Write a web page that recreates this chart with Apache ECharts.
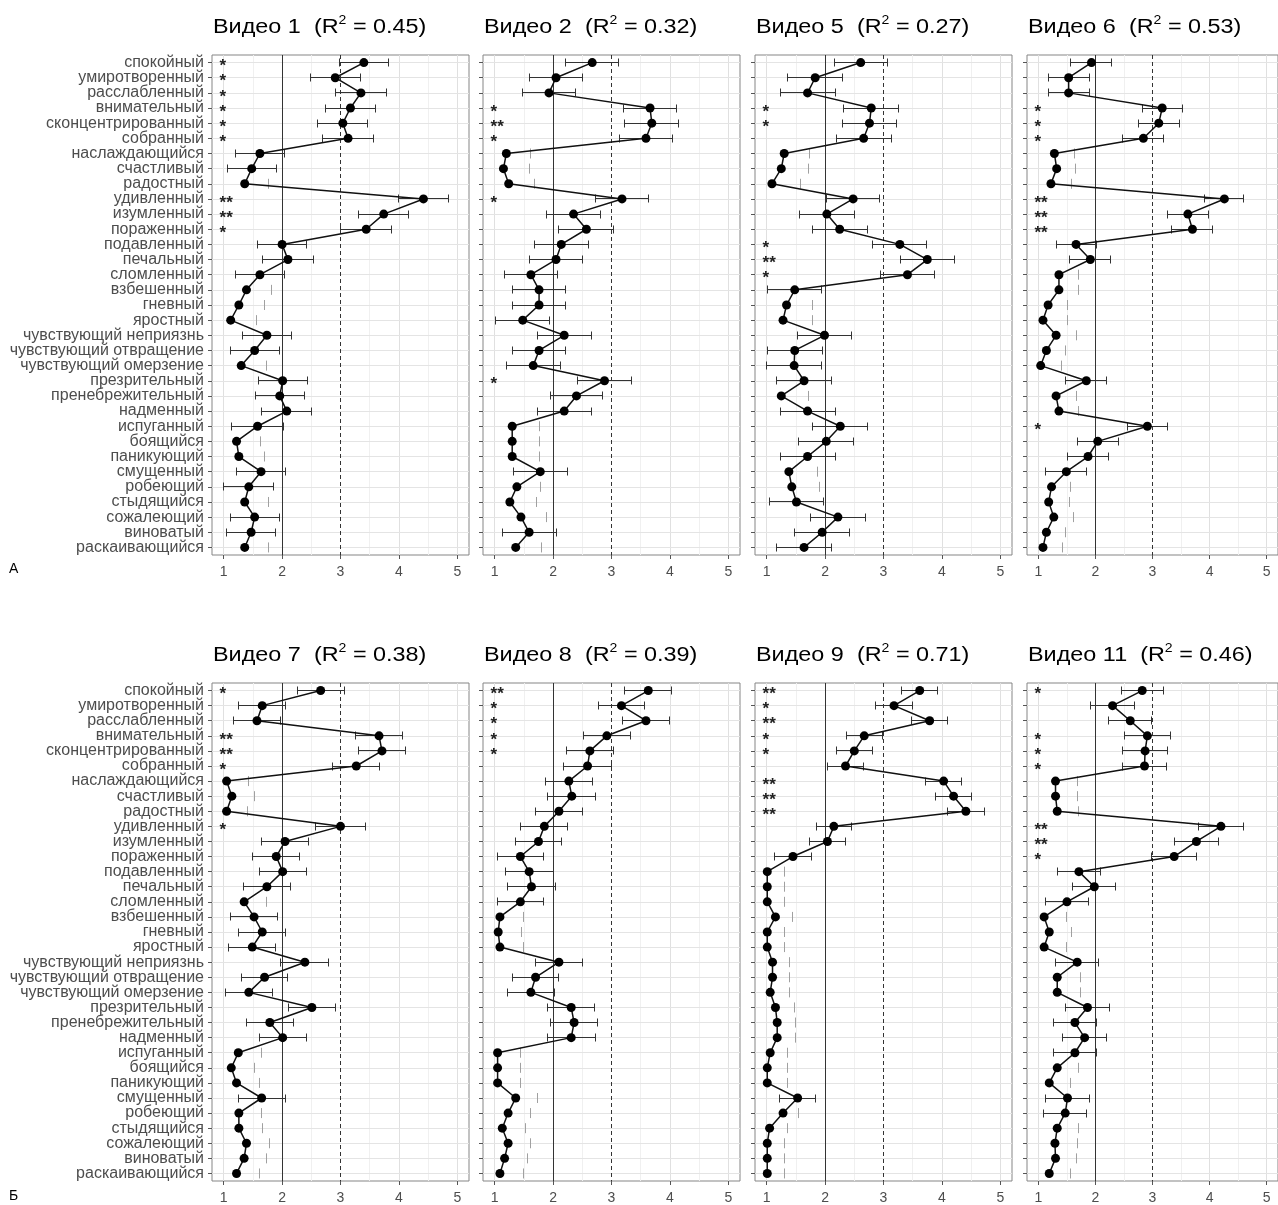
<!DOCTYPE html>
<html><head><meta charset="utf-8">
<script src="https://cdn.jsdelivr.net/npm/echarts@6/dist/echarts.min.js"></script>
<style>html,body{margin:0;padding:0;background:#fff}#c{width:1278px;height:1205px}</style>
</head><body><div id="c"></div>
<script>
const categories = ['спокойный','умиротворенный','расслабленный','внимательный','сконцентрированный','собранный','наслаждающийся','счастливый','радостный','удивленный','изумленный','пораженный','подавленный','печальный','сломленный','взбешенный','гневный','яростный','чувствующий неприязнь','чувствующий отвращение','чувствующий омерзение','презрительный','пренебрежительный','надменный','испуганный','боящийся','паникующий','смущенный','робеющий','стыдящийся','сожалеющий','виноватый','раскаивающийся'];
const xTicks = [1,2,3,4,5];
const _ = null;

const titles = ['Видео 1','Видео 2','Видео 5','Видео 6','Видео 7','Видео 8','Видео 9','Видео 11'];
const r2 = ['0.45','0.32','0.27','0.53','0.38','0.39','0.71','0.46'];

const v1Mean = [3.40,2.91,3.35,3.17,3.04,3.13,1.62,1.48,1.36,4.42,3.74,3.44,2.00,2.10,1.62,1.39,1.26,1.12,1.74,1.53,1.30,2.01,1.96,2.08,1.58,1.22,1.26,1.64,1.43,1.36,1.53,1.47,1.36];
const v1Err  = [0.42,0.43,0.43,0.43,0.43,0.43,0.42,0.42,_,0.43,0.43,0.44,0.42,0.43,0.42,_,_,_,0.42,0.42,_,0.42,0.42,0.43,0.44,_,_,0.42,0.43,_,0.42,0.42,_];
const v1Gray = [_,_,_,_,_,_,_,_,1.76,_,_,_,_,_,_,1.82,1.70,1.56,_,_,1.73,_,_,_,_,1.63,1.70,_,_,1.76,_,_,1.76];
const v1Stars = ['*','*','*','*','*','*','','','','**','**','*','','','','','','','','','','','','','','','','','','','','',''];

const v2Mean = [2.67,2.05,1.93,3.66,3.69,3.59,1.20,1.15,1.24,3.18,2.35,2.57,2.14,2.05,1.62,1.76,1.76,1.48,2.19,1.76,1.66,2.88,2.40,2.19,1.30,1.30,1.30,1.78,1.38,1.26,1.45,1.59,1.36];
const v2Err  = [0.45,0.46,0.46,0.46,0.46,0.45,_,_,_,0.46,0.46,0.47,0.46,0.46,0.46,0.46,0.46,0.46,0.46,0.46,0.46,0.46,0.45,0.46,_,_,_,0.46,_,_,_,0.46,_];
const v2Gray = [_,_,_,_,_,_,1.62,1.59,1.69,_,_,_,_,_,_,_,_,_,_,_,_,_,_,_,1.76,1.76,1.76,_,1.79,1.72,1.89,_,1.80];
const v2Stars = ['','','','*','**','*','','','','*','','','','','','','','','','','','*','','','','','','','','','','',''];

const v5Mean = [2.61,1.83,1.70,2.79,2.76,2.66,1.30,1.25,1.09,2.48,2.03,2.25,3.28,3.75,3.41,1.48,1.34,1.28,1.99,1.48,1.47,1.64,1.25,1.70,2.26,2.02,1.70,1.38,1.43,1.51,2.22,1.95,1.64];
const v5Err  = [0.45,0.47,0.47,0.47,0.47,0.47,_,_,_,0.46,0.47,0.47,0.46,0.46,0.46,0.46,_,_,0.47,0.47,0.47,0.47,_,0.47,0.47,0.47,0.47,_,_,0.47,0.47,0.47,0.47];
const v5Gray = [_,_,_,_,_,_,1.74,1.72,1.58,_,_,_,_,_,_,_,1.78,1.78,_,_,_,_,1.71,_,_,_,_,1.87,1.90,_,_,_,_];
const v5Stars = ['','','','*','*','','','','','','','','*','**','*','','','','','','','','','','','','','','','','','',''];

const v6Mean = [1.93,1.53,1.53,3.17,3.11,2.84,1.28,1.32,1.22,4.26,3.62,3.70,1.66,1.91,1.36,1.36,1.17,1.08,1.31,1.14,1.04,1.84,1.31,1.36,2.91,2.04,1.87,1.49,1.23,1.18,1.27,1.14,1.08];
const v6Err  = [0.36,0.36,0.36,0.35,0.36,0.36,_,_,_,0.34,0.36,0.36,0.35,0.36,_,_,_,_,_,_,_,0.36,_,_,0.35,0.36,0.36,0.36,_,_,_,_,_];
const v6Gray = [_,_,_,_,_,_,1.63,1.65,1.58,_,_,_,_,_,1.71,1.71,1.51,1.51,1.66,1.47,1.41,_,1.66,1.71,_,_,_,_,1.57,1.54,1.61,1.47,1.43];
const v6Stars = ['','','','*','*','*','','','','**','**','**','','','','','','','','','','','','','*','','','','','','','',''];

const v7Mean = [2.66,1.66,1.57,3.66,3.71,3.27,1.05,1.14,1.05,3.00,2.05,1.90,2.01,1.74,1.35,1.52,1.66,1.49,2.39,1.70,1.43,2.51,1.79,2.01,1.25,1.13,1.22,1.65,1.26,1.26,1.39,1.35,1.22];
const v7Err  = [0.40,0.40,0.40,0.40,0.40,0.40,_,_,_,0.42,0.40,0.40,0.40,0.40,_,0.40,0.40,0.40,0.41,0.40,0.40,0.40,0.40,0.40,_,_,_,0.40,_,_,_,_,_];
const v7Gray = [_,_,_,_,_,_,1.42,1.52,1.41,_,_,_,_,_,1.73,_,_,_,_,_,_,_,_,_,1.65,1.52,1.62,_,1.65,1.66,1.79,1.73,1.62];
const v7Stars = ['*','','','**','**','*','','','','*','','','','','','','','','','','','','','','','','','','','','','',''];

const v8Mean = [3.63,3.17,3.59,2.92,2.63,2.59,2.27,2.32,2.10,1.85,1.75,1.44,1.59,1.63,1.44,1.09,1.06,1.09,2.10,1.70,1.62,2.31,2.36,2.31,1.05,1.05,1.05,1.36,1.23,1.13,1.23,1.17,1.09];
const v8Err  = [0.40,0.40,0.41,0.40,0.40,0.41,0.40,0.41,0.40,0.40,0.40,0.40,0.41,0.41,0.40,_,_,_,0.40,0.40,0.40,0.40,0.40,0.41,_,_,_,_,_,_,_,_,_];
const v8Gray = [_,_,_,_,_,_,_,_,_,_,_,_,_,_,_,1.49,1.46,1.49,_,_,_,_,_,_,1.45,1.45,1.45,1.74,1.62,1.52,1.62,1.56,1.49];
const v8Stars = ['**','*','*','*','*','','','','','','','','','','','','','','','','','','','','','','','','','','','',''];

const v9Mean = [3.62,3.18,3.79,2.67,2.50,2.35,4.03,4.20,4.41,2.15,2.04,1.45,1.01,1.01,1.01,1.15,1.01,1.01,1.10,1.10,1.06,1.15,1.18,1.18,1.06,1.01,1.01,1.53,1.28,1.05,1.01,1.01,1.01];
const v9Err  = [0.31,0.31,0.31,0.31,0.31,0.31,0.31,0.31,0.32,0.30,0.31,0.31,_,_,_,_,_,_,_,_,_,_,_,_,_,_,_,0.31,_,_,_,_,_];
const v9Gray = [_,_,_,_,_,_,_,_,_,_,_,_,1.31,1.31,1.31,1.45,1.31,1.31,1.39,1.39,1.39,1.47,1.50,1.50,1.35,1.35,1.35,_,1.55,1.35,1.31,1.31,1.31];
const v9Stars = ['**','*','**','*','*','','**','**','**','','','','','','','','','','','','','','','','','','','','','','','',''];

const v11Mean = [2.82,2.30,2.61,2.91,2.87,2.86,1.30,1.30,1.33,4.20,3.77,3.38,1.71,1.98,1.50,1.10,1.19,1.10,1.68,1.33,1.33,1.86,1.64,1.81,1.64,1.33,1.19,1.51,1.47,1.33,1.29,1.30,1.19];
const v11Err  = [0.37,0.38,0.38,0.40,0.39,0.39,_,_,_,0.40,0.38,0.39,0.38,0.38,0.38,_,_,_,0.38,_,_,0.39,0.38,0.38,0.38,_,_,0.38,0.38,_,_,_,_];
const v11Gray = [_,_,_,_,_,_,1.68,1.68,1.71,_,_,_,_,_,_,1.50,1.58,1.50,_,1.73,1.73,_,_,_,_,1.71,1.57,_,_,1.71,1.69,1.67,1.57];
const v11Stars = ['*','','','*','*','*','','','','**','**','*','','','','','','','','','','','','','','','','','','','','',''];

const means = [v1Mean,v2Mean,v5Mean,v6Mean,v7Mean,v8Mean,v9Mean,v11Mean];
const errs  = [v1Err,v2Err,v5Err,v6Err,v7Err,v8Err,v9Err,v11Err];
const grays = [v1Gray,v2Gray,v5Gray,v6Gray,v7Gray,v8Gray,v9Gray,v11Gray];
const stars = [v1Stars,v2Stars,v5Stars,v6Stars,v7Stars,v8Stars,v9Stars,v11Stars];

const FONT = "'Liberation Sans', Arial, sans-serif";
const lefts = [212, 483, 755, 1027];
const tops = [55, 683];
const PW = 257, PH = 500;
const crisp = v => Math.round(v - 0.5) + 0.5;

const grids = [], xAxes = [], yAxes = [], series = [], graphics = [];
for (let p = 0; p < 8; p++) {
  const col = p % 4, row = Math.floor(p / 4);
  grids.push({left: lefts[col], top: tops[row], width: PW, height: PH, show: true,
    borderColor: '#858585', borderWidth: 1, backgroundColor: '#fff', containLabel: false});
  xAxes.push({type: 'value', gridIndex: p, min: 0.8, max: 5.2,
    axisLine: {show: false}, splitLine: {show: false},
    axisTick: {show: true, length: 4, lineStyle: {color: '#555'}, customValues: xTicks},
    axisLabel: {show: true, customValues: xTicks, margin: 10, fontSize: 14, color: '#4d4d4d', fontFamily: FONT}});
  yAxes.push({type: 'category', gridIndex: p, data: categories, inverse: true, boundaryGap: true,
    axisLine: {show: false}, splitLine: {show: false},
    axisTick: {show: true, alignWithLabel: true, length: 4, lineStyle: {color: '#555'}},
    axisLabel: {show: col === 0, interval: 0, margin: 8, fontSize: 16, color: '#4d4d4d', fontFamily: FONT}});
  graphics.push({type: 'text', x: lefts[col] + 1, y: row === 0 ? 27 : 655, scaleX: 1.17, scaleY: 1, z: 10,
    style: {text: '{n|' + titles[p] + '  (R}{s|2}{n| = ' + r2[p] + ')}',
      textVerticalAlign: 'middle', textAlign: 'left',
      rich: {n: {fontSize: 20, fontFamily: FONT, fontWeight: 'normal', fill: '#000', lineHeight: 24},
             s: {fontSize: 12, fontFamily: FONT, fontWeight: 'normal', fill: '#000', verticalAlign: 'top', lineHeight: 12}}}});

  // grid lines
  const gridLines = [];
  [1.5, 2.5, 3.5, 4.5].forEach(v => gridLines.push({xAxis: v, lineStyle: {color: '#f0f0f0', width: 1, type: 'solid'}}));
  [1, 4, 5].forEach(v => gridLines.push({xAxis: v, lineStyle: {color: '#e0e0e0', width: 1, type: 'solid'}}));
  categories.forEach((c, k) => gridLines.push({yAxis: k, lineStyle: {color: '#e4e4e4', width: 1, type: 'solid'}}));
  series.push({type: 'line', xAxisIndex: p, yAxisIndex: p, data: [], z: 0, silent: true,
    markLine: {z: 0, silent: true, symbol: 'none', label: {show: false}, animation: false, data: gridLines}});
  series.push({type: 'line', xAxisIndex: p, yAxisIndex: p, data: [], z: 1, silent: true,
    markLine: {z: 1, silent: true, symbol: 'none', label: {show: false}, animation: false, data: [
      {xAxis: 2, lineStyle: {color: '#333', width: 1, type: 'solid'}},
      {xAxis: 3, lineStyle: {color: '#333', width: 1, type: [4, 3]}}]}});

  // gray reference ticks
  const gdata = [];
  grays[p].forEach((g, k) => { if (g != null) gdata.push([k, g]); });
  series.push({type: 'custom', xAxisIndex: p, yAxisIndex: p, z: 2, silent: true, data: gdata,
    encode: {x: 1, y: 0},
    renderItem: (params, api) => {
      const pt = api.coord([api.value(1), api.value(0)]);
      const x = crisp(pt[0]);
      return {type: 'line', shape: {x1: x, y1: pt[1] - 5, x2: x, y2: pt[1] + 5},
        style: {stroke: '#a0a0a0', lineWidth: 1}};
    }});

  // error bars
  const edata = [];
  errs[p].forEach((e, k) => { if (e != null) edata.push([k, means[p][k] - e, means[p][k] + e]); });
  series.push({type: 'custom', xAxisIndex: p, yAxisIndex: p, z: 3, silent: true, data: edata,
    encode: {x: [1, 2], y: 0},
    renderItem: (params, api) => {
      const a = api.coord([api.value(1), api.value(0)]);
      const b = api.coord([api.value(2), api.value(0)]);
      const y = crisp(a[1]), xa = crisp(a[0]), xb = crisp(b[0]);
      const st = {stroke: '#333', lineWidth: 1};
      return {type: 'group', children: [
        {type: 'line', shape: {x1: xa, y1: y, x2: xb, y2: y}, style: st},
        {type: 'line', shape: {x1: xa, y1: y - 4, x2: xa, y2: y + 4}, style: st},
        {type: 'line', shape: {x1: xb, y1: y - 4, x2: xb, y2: y + 4}, style: st}]};
    }});

  // means
  series.push({type: 'line', xAxisIndex: p, yAxisIndex: p, z: 10, animation: false,
    data: means[p].map((v, k) => [v, k]), symbol: 'circle', symbolSize: 9, showSymbol: true,
    itemStyle: {color: '#000'}, lineStyle: {color: '#111', width: 1.5}});

  // significance stars
  const sdata = [];
  stars[p].forEach((s, k) => { if (s) sdata.push([k, 0.93, s]); });
  series.push({type: 'custom', xAxisIndex: p, yAxisIndex: p, z: 11, silent: true, data: sdata,
    encode: {x: 1, y: 0},
    renderItem: (params, api) => {
      const pt = api.coord([api.value(1), api.value(0)]);
      return {type: 'text', x: pt[0], y: pt[1] + 4,
        style: {text: sdata[params.dataIndex][2], font: 'bold 17px ' + FONT, fill: '#222',
          textAlign: 'left', textVerticalAlign: 'middle'}};
    }});
}

graphics.push({type: 'text', left: 9, top: 562, style: {text: 'А', font: '14px ' + FONT, fill: '#000'}});
graphics.push({type: 'text', left: 9, top: 1189, style: {text: 'Б', font: '14px ' + FONT, fill: '#000'}});

const chart = echarts.init(document.getElementById('c'), null, {renderer: 'canvas'});
chart.setOption({
  animation: false,
  backgroundColor: '#fff',
  grid: grids, xAxis: xAxes, yAxis: yAxes, series: series,
  graphic: graphics
});
</script></body></html>
